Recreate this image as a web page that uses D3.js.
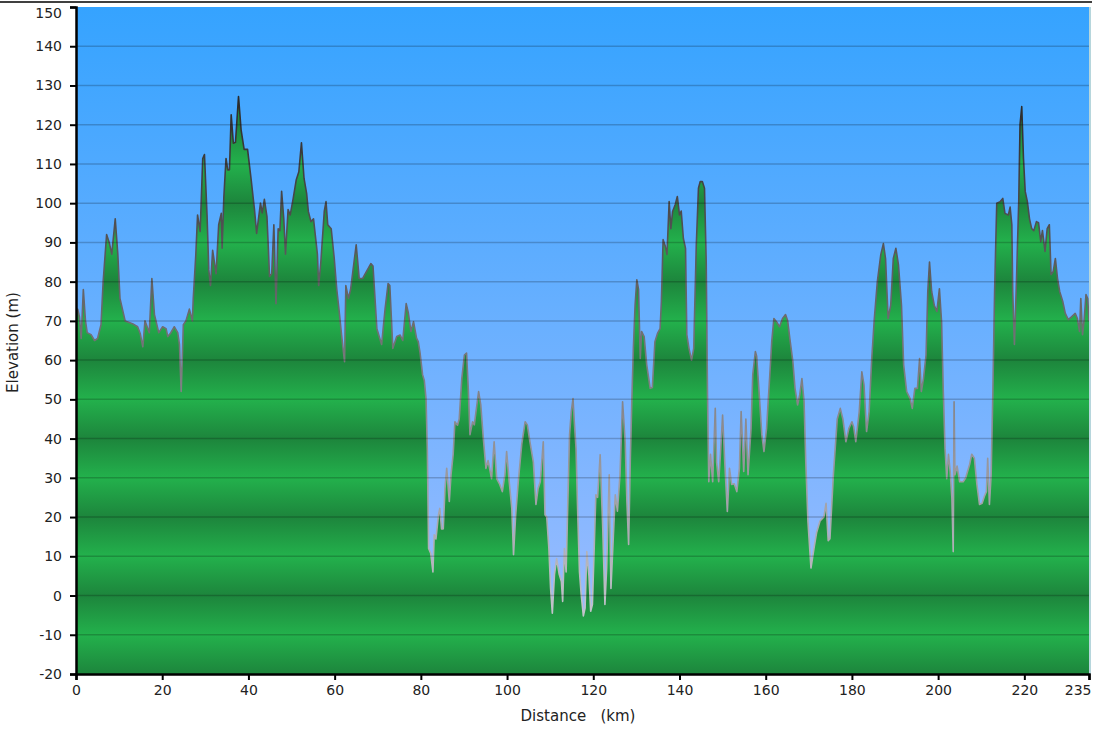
<!DOCTYPE html>
<html>
<head>
<meta charset="utf-8">
<script src="https://cdn.jsdelivr.net/npm/d3@7/dist/d3.min.js"></script>
<style>
    body { margin: 0; background: #fff; }
    svg { display: block; font-family: Verdana, 'DejaVu Sans', sans-serif; }
</style>
</head>
<body>
<svg id="chart" width="1094" height="731"></svg>
<script>
// Elevation profile
const distKm = [
    0, 0.4, 0.8, 1.2, 1.7, 2.2, 2.6, 3.5, 4.3, 5.0, 5.8, 6.3, 7.1, 7.7, 8.3, 9.1, 9.7, 10.2, 11.4, 13.1,
    14.3, 14.9, 15.5, 16.0, 17.0, 17.6, 18.2, 19.2, 20.1, 20.9, 21.3, 22.0, 22.8, 23.6, 24.0, 24.4, 24.9, 25.5, 26.3, 27.0,
    27.2, 27.8, 28.2, 28.8, 29.4, 29.8, 30.4, 30.8, 31.2, 31.7, 32.5, 33.1, 33.7, 33.9, 34.3, 34.8, 35.2, 35.6, 36.0, 36.5,
    37.0, 37.7, 38.3, 39.0, 39.8, 40.6, 41.4, 41.9, 42.8, 43.2, 43.7, 44.3, 44.9, 45.4, 45.9, 46.4, 46.9, 47.3, 47.7, 48.2,
    48.6, 49.2, 49.7, 50.4, 51.1, 51.7, 52.3, 52.9, 53.5, 53.9, 54.5, 55.1, 55.5, 56.0, 56.3, 56.8, 57.6, 58.0, 58.4, 59.2,
    59.9, 60.5, 61.0, 61.6, 62.3, 62.6, 63.2, 63.7, 65.0, 65.7, 66.5, 67.4, 68.4, 68.9, 69.8, 70.9, 71.7, 72.4, 72.8, 73.5,
    74.4, 75.2, 75.8, 76.6, 77.1, 77.7, 78.3, 79.0, 79.4, 79.8, 80.4, 80.8, 81.2, 81.5, 81.8, 82.3, 82.8, 83.1, 83.5, 84.1,
    84.4, 84.8, 85.2, 85.6, 86.0, 86.6, 87.0, 87.5, 87.9, 88.5, 88.9, 89.5, 90.1, 90.6, 91.0, 91.4, 92.0, 92.4, 92.8, 93.4,
    93.9, 94.5, 95.1, 95.6, 96.4, 97.0, 97.6, 98.3, 98.9, 99.5, 99.9, 100.5, 101.1, 101.5, 102.0, 102.6, 103.4, 104.2, 104.7, 105.3,
    106.1, 106.7, 107.2, 107.7, 108.4, 108.8, 109.2, 109.7, 110.1, 110.5, 111.0, 111.5, 112.1, 112.6, 112.9, 113.3, 113.7, 114.1, 114.5, 114.9,
    115.3, 115.6, 116.0, 116.4, 116.8, 117.2, 117.7, 118.1, 118.5, 119.0, 119.4, 119.8, 120.6, 121.0, 121.6, 122.2, 122.7, 123.1, 123.7, 124.1,
    124.6, 125.1, 125.6, 126.2, 126.8, 127.4, 127.8, 128.2, 128.6, 129.0, 129.3, 129.7, 130.1, 130.5, 130.9, 131.2, 131.8, 132.4, 133.2, 133.7,
    134.3, 134.9, 135.5, 135.8, 136.2, 136.7, 137.1, 137.6, 138.0, 138.4, 139.0, 139.5, 140.0, 140.4, 140.9, 141.4, 141.7, 142.2, 142.8, 143.3,
    143.9, 144.4, 144.8, 145.3, 145.8, 146.2, 146.5, 146.8, 147.2, 147.7, 148.3, 148.6, 149.1, 149.5, 150.0, 150.5, 151.1, 151.6, 152.1, 152.7,
    153.3, 153.9, 154.3, 154.9, 155.4, 155.9, 156.6, 157.0, 157.6, 157.9, 158.5, 159.1, 159.6, 160.2, 160.9, 161.4, 161.9, 162.5, 163.2, 163.9,
    164.6, 165.1, 165.6, 166.3, 166.8, 167.4, 167.9, 168.4, 168.9, 169.3, 169.8, 170.5, 171.2, 171.8, 172.6, 173.5, 174.0, 174.5, 174.9, 175.7,
    176.6, 177.3, 177.9, 178.6, 179.3, 180.0, 180.4, 180.9, 181.7, 182.3, 182.8, 183.4, 184.0, 184.6, 185.2, 185.9, 186.7, 187.3, 187.8, 188.4,
    189.0, 189.6, 190.2, 190.8, 191.5, 192.0, 192.7, 193.5, 194.0, 194.6, 195.2, 195.7, 196.1, 196.6, 197.2, 197.6, 198.0, 198.5, 199.1, 199.7,
    200.3, 200.8, 201.2, 201.6, 202.0, 202.4, 202.8, 203.2, 203.5, 203.7, 203.9, 204.4, 205.0, 205.8, 206.4, 207.3, 207.8, 208.4, 209.0, 209.6,
    210.2, 210.7, 211.2, 211.5, 211.9, 212.3, 212.7, 213.1, 213.6, 214.4, 215.0, 215.5, 216.3, 216.7, 217.1, 217.3, 217.7, 218.1, 218.7, 219.0,
    219.4, 219.8, 220.2, 220.7, 221.2, 221.7, 222.2, 222.8, 223.3, 223.8, 224.2, 224.8, 225.3, 225.8, 226.2, 226.7, 227.2, 227.7, 228.2, 228.9,
    229.5, 230.2, 231.0, 231.8, 232.3, 232.8, 233.1, 233.5, 233.9, 234.3, 234.7, 235.0
];
const elevM = [
    72, 73, 71, 65.5, 78, 70, 67, 66.5, 65, 65.5, 69, 80, 92, 90, 87, 96, 87, 75.7, 70, 69.3,
    68.5, 66.8, 63.4, 70, 67, 80.8, 71.6, 67, 68.5, 68, 66, 67, 68.5, 67, 64, 52, 69, 70, 73, 70,
    75.7, 87, 97, 92.8, 111.4, 112.4, 97, 83, 79, 88, 82, 94.5, 97.4, 88.5, 101.6, 111.4, 108.5, 108.5, 122.5, 115.3,
    115.5, 127.2, 118.7, 113.7, 113.7, 106.3, 98.4, 92.3, 100, 97.5, 101, 96.6, 81.3, 82, 94.5, 74.4, 93.5, 93, 103, 96,
    87, 98.4, 97, 101.3, 106, 108, 115.4, 106.3, 102.5, 97.9, 95.3, 96, 92, 87, 79, 85, 98, 100.4, 94.5, 93.5,
    86, 78, 73, 66.5, 59.6, 79, 75.7, 78, 89.4, 80.8, 80.8, 82.6, 84.6, 84, 68, 64, 73, 79.5, 79, 63,
    66, 66.4, 65, 74.4, 72, 67.3, 69.8, 65.6, 64.7, 62, 56.3, 54.8, 50.2, 37.5, 12, 10.7, 6, 15.5, 14.4, 20.6,
    22.2, 17, 17, 27.3, 32.4, 24, 30.8, 36, 44.3, 43.4, 45, 55.3, 61.3, 61.8, 52.8, 41, 44.3, 43.5, 46.9, 52,
    48.6, 40, 32.4, 34.4, 29.8, 39.2, 29.8, 28.3, 26.5, 30.8, 36.7, 29, 22.2, 10.4, 20.6, 29, 38.5, 44.3, 43.5, 39.2,
    34, 23.2, 27.3, 29, 39.2, 20.6, 20, 12, 1.8, -4.5, 5.4, 9.4, 5.4, 3.6, -1.5, 12, 6, 24, 41, 46.9,
    50.2, 44.3, 37.5, 20.6, 6, 0.2, -5.2, -3.2, 11.2, 5, -4, -2.3, 25.7, 25, 35.9, 17, -2.3, 6.9, 30.8, 1.8,
    13.8, 25.7, 21.5, 30.8, 49.4, 39.2, 24, 13, 35, 52, 63, 74, 80.5, 78, 60.4, 67.3, 66, 58.8, 52.8, 53,
    64.7, 66.8, 68, 74.9, 90.7, 89, 86.9, 100.4, 93.5, 97.9, 99.6, 101.7, 97, 98, 91, 88.5, 66.5, 63, 60, 63,
    89.4, 103.8, 105.5, 105.5, 103.8, 85, 51.2, 29, 36, 29, 47.7, 34, 29, 36, 46, 34, 21.4, 32.4, 28.3, 28.5,
    26.5, 32.4, 46.9, 31.6, 45, 30.8, 42.6, 56.3, 62.2, 61, 51.2, 41, 36.7, 42.6, 55.3, 64.7, 70.6, 69.8, 68.5, 70.6,
    71.6, 70, 65.5, 59.6, 52.8, 48.6, 51.2, 55.3, 49.4, 34, 18.9, 7, 12, 16, 19, 20, 23.5, 14, 14.5, 30.8,
    45, 47.7, 45, 39.2, 42.6, 44.3, 43, 39.2, 46.9, 57, 53.7, 41.8, 46.9, 60.4, 70.6, 80, 86.9, 89.7, 85.9, 70.6,
    74, 85.9, 88.5, 84.3, 74, 58.8, 52, 50.2, 47.7, 52.8, 52.8, 60.4, 52, 55.3, 61.3, 77.5, 85, 77.5, 74, 72.4,
    78.2, 69.8, 52, 37.5, 29.8, 36, 31.6, 24.7, 11.2, 49.4, 30.8, 33, 29, 29, 30, 33.4, 36, 35, 28.3, 23.2,
    23.5, 25.2, 26.5, 35, 23.2, 30.8, 52, 77.5, 100, 100.4, 101.2, 97.4, 97, 99, 94.5, 77.5, 64, 77.5, 100.4, 120,
    124.6, 111.4, 103, 100.4, 96, 93.5, 93, 95.3, 95, 90.2, 93, 87.7, 93.5, 94.5, 81.8, 82.6, 85.9, 80.8, 77.5, 75,
    71.9, 70.3, 71.1, 71.9, 70.6, 67.3, 75.7, 66.5, 70.6, 76.7, 75.7, 70
];

// Axis ticks
const xTicks = [0, 20, 40, 60, 80, 100, 120, 140, 160, 180, 200, 220, 235];
const yTicks = [-20, -10, 0, 10, 20, 30, 40, 50, 60, 70, 80, 90, 100, 110, 120, 130, 140, 150];

const svg = d3.select('#chart');
const plotLeft = 76, plotRight = 1089, plotTop = 7, plotBottom = 674;

const x = d3.scaleLinear().domain([0, 235]).range([plotLeft, plotRight]);
const y = d3.scaleLinear().domain([-20, 150]).range([plotBottom, plotTop]);

const points = distKm.map((d, i) => [d, elevM[i]]);

// Gradients
const defs = svg.append('defs');

const sky = defs.append('linearGradient')
    .attr('id', 'sky')
    .attr('x1', 0).attr('y1', 0).attr('x2', 0).attr('y2', 1);
sky.append('stop').attr('offset', 0).attr('stop-color', '#35a3ff');
sky.append('stop').attr('offset', 1).attr('stop-color', '#a3beff');

// green bands repeat every 20 m
const ground = defs.append('linearGradient')
    .attr('id', 'ground')
    .attr('gradientUnits', 'userSpaceOnUse')
    .attr('spreadMethod', 'repeat')
    .attr('x1', 0).attr('x2', 0)
    .attr('y1', y(20)).attr('y2', y(0));
ground.append('stop').attr('offset', 0).attr('stop-color', '#1d853c');
ground.append('stop').attr('offset', 0.5).attr('stop-color', '#23b14c');
ground.append('stop').attr('offset', 1).attr('stop-color', '#1d853c');

// outline is dark on the hills, pale in the valleys
const outline = defs.append('linearGradient')
    .attr('id', 'outline')
    .attr('gradientUnits', 'userSpaceOnUse')
    .attr('x1', 0).attr('x2', 0)
    .attr('y1', y(130)).attr('y2', y(-5));
outline.append('stop').attr('offset', 0).attr('stop-color', '#262626');
outline.append('stop').attr('offset', 1).attr('stop-color', '#c4c4cc');

defs.append('clipPath').attr('id', 'plotClip')
    .append('rect')
    .attr('x', plotLeft).attr('y', plotTop)
    .attr('width', plotRight - plotLeft).attr('height', plotBottom - plotTop);

// thin rule along the top of the page
svg.append('line')
    .attr('x1', 0).attr('x2', 1092)
    .attr('y1', 2).attr('y2', 2)
    .attr('stroke', '#000')
    .attr('stroke-width', 1.5);

// Plot background
svg.append('rect')
    .attr('x', plotLeft).attr('y', plotTop)
    .attr('width', plotRight - plotLeft).attr('height', plotBottom - plotTop)
    .attr('fill', 'url(#sky)');

const plot = svg.append('g').attr('clip-path', 'url(#plotClip)');

const area = d3.area()
    .x(d => x(d[0]))
    .y0(y(-20))
    .y1(d => y(d[1]));

const line = d3.line()
    .x(d => x(d[0]))
    .y(d => y(d[1]));

plot.append('path')
    .datum(points)
    .attr('d', area)
    .attr('fill', 'url(#ground)');

plot.append('path')
    .datum(points)
    .attr('d', line)
    .attr('fill', 'none')
    .attr('stroke', 'url(#outline)')
    .attr('stroke-width', 1.6)
    .attr('stroke-linejoin', 'round');

// Grid lines on top of the profile
plot.append('g')
    .selectAll('line')
    .data(yTicks.filter(v => v > -20 && v < 150))
    .join('line')
    .attr('x1', plotLeft).attr('x2', plotRight)
    .attr('y1', d => y(d)).attr('y2', d => y(d))
    .attr('stroke', '#000')
    .attr('stroke-opacity', 0.2)
    .attr('stroke-width', 1.5);

// pale edge on the right
svg.append('line')
    .attr('x1', plotRight + 1).attr('x2', plotRight + 1)
    .attr('y1', plotTop).attr('y2', plotBottom)
    .attr('stroke', '#b6d6dc')
    .attr('stroke-width', 2);

// Axes (plain hyphen for negatives, like the original)
const yAxis = svg.append('g')
    .attr('transform', `translate(${plotLeft},0)`)
    .call(d3.axisLeft(y).tickValues(yTicks).tickSize(6).tickPadding(8).tickFormat(d => String(d)));

const xAxis = svg.append('g')
    .attr('transform', `translate(0,${plotBottom})`)
    .call(d3.axisBottom(x).tickValues(xTicks).tickSize(6).tickPadding(5).tickFormat(d => String(d)));

[yAxis, xAxis].forEach(ax => {
    ax.select('.domain').attr('stroke', '#000').attr('stroke-width', 2.5);
    ax.selectAll('.tick line').attr('stroke', '#000').attr('stroke-width', 2);
    ax.selectAll('.tick text')
        .attr('fill', '#222')
        .style('font-size', '14px')
        .style('font-family', 'Verdana, "DejaVu Sans", sans-serif');
});

// top label sits a little lower so it fits on the page
yAxis.selectAll('.tick')
    .filter(d => d === 150)
    .select('text')
    .attr('dy', '0.75em');

// last distance label is pulled in from the right edge
xAxis.selectAll('.tick')
    .filter(d => d === 235)
    .select('text')
    .attr('text-anchor', 'end')
    .attr('dx', 2);

// Axis titles
svg.append('text')
    .attr('transform', `translate(18,${(plotTop + plotBottom) / 2 + 2}) rotate(-90)`)
    .attr('text-anchor', 'middle')
    .attr('fill', '#222')
    .style('font-size', '15px')
    .text('Elevation (m)');

svg.append('text')
    .attr('x', 578)
    .attr('y', 721)
    .attr('text-anchor', 'middle')
    .attr('fill', '#222')
    .attr('xml:space', 'preserve')
    .style('white-space', 'pre')
    .style('font-size', '15px')
    .text('Distance   (km)');
</script>
</body>
</html>
